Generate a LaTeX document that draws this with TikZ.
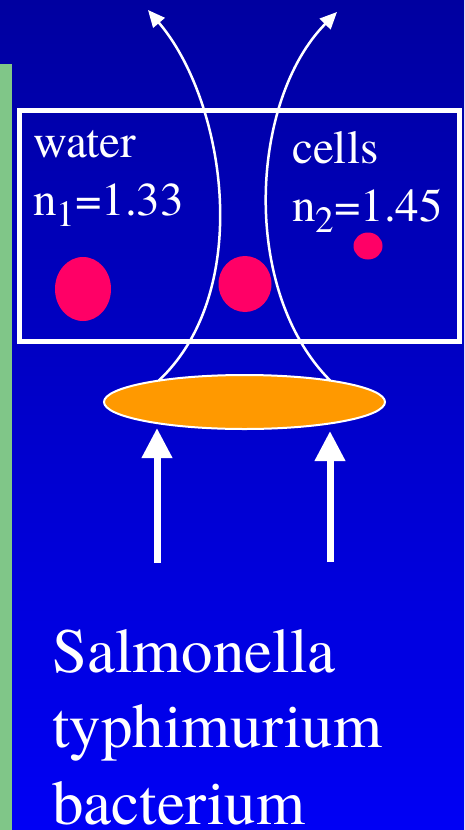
\documentclass[tikz,border=0pt]{standalone}
\usepackage{fontspec}
\IfFontExistsTF{texgyretermes-regular.otf}{%
  \setmainfont{texgyretermes}[Extension=.otf,UprightFont=*-regular,BoldFont=*-bold,ItalicFont=*-italic,BoldItalicFont=*-bolditalic]}{}
\usetikzlibrary{shapes.geometric,arrows.meta}
\definecolor{bgtop}{RGB}{0,0,160}
\definecolor{bgbot}{RGB}{0,0,245}
\definecolor{stripgreen}{RGB}{128,198,136}
\definecolor{dotred}{RGB}{255,0,102}
\definecolor{lensorange}{RGB}{255,153,0}
\tikzset{
  lbl/.style={text=white, inner sep=0pt, anchor=base west},
  smalltxt/.style={lbl, font=\fontsize{47}{58}\selectfont},
  bigtxt/.style={lbl, font=\fontsize{63}{76}\selectfont},
  dot/.style={ellipse, fill=dotred, inner sep=0pt, outer sep=0pt},
  ray/.style={draw=white, line width=2.5pt, -{Triangle[length=17pt,width=15pt]}},
  bigarrow/.style={draw=white, line width=7pt, -{Triangle[length=30pt,width=29pt]}},
}
\newcommand{\subs}[1]{\raisebox{-0.24em}{\fontsize{37}{37}\selectfont #1}}
\begin{document}
\begin{tikzpicture}[x=1pt,y=-1pt]
\useasboundingbox (0,0) rectangle (464,830);
\shade[top color=bgtop, bottom color=bgbot] (0,0) rectangle (464,830);
\fill[stripgreen] (0,64) rectangle (12,830);
% box
\node[draw=white, line width=5pt, minimum width=440pt, minimum height=231pt, inner sep=0pt, outer sep=0pt] (box) at (239.5,226) {};
% texts
\node[smalltxt] (water) at (33,157) {water};
\node[smalltxt] (n1) at (33,215) {n\subs{1}=1.33};
\node[smalltxt] (cells) at (292,163) {cells};
\node[smalltxt] (n2) at (292,221) {n\subs{2}=1.45};
% dots
\node[dot, minimum width=56pt, minimum height=64pt] (d1) at (83,289) {};
\node[dot, minimum width=53pt, minimum height=56pt] (d2) at (245,284) {};
\node[dot, minimum width=29pt, minimum height=27pt] (d3) at (368,246) {};
% lens
\node[ellipse, fill=lensorange, draw=white, line width=2pt, minimum width=281pt, minimum height=54pt, inner sep=0pt, outer sep=0pt] (lens) at (244.5,402) {};
% rays
\coordinate (t1) at (148,10);
\coordinate (t2) at (337,12);
\draw[ray] (lens.166.8) .. controls (255,290) and (225,100) .. (t1);
\draw[ray] (lens.14) .. controls (240,290) and (250,100) .. (t2);
% incoming arrows
\coordinate (a1) at (157,563);
\coordinate (b1) at (157,428);
\coordinate (a2) at (330,562);
\coordinate (b2) at (330,431);
\draw[bigarrow] (a1) -- (b1);
\draw[bigarrow] (a2) -- (b2);
% bottom text
\node[bigtxt] (s1) at (52,672) {Salmonella};
\node[bigtxt] (s2) at (52,747) {typhimurium};
\node[bigtxt] (s3) at (52,824) {bacterium};
\end{tikzpicture}
\end{document}
